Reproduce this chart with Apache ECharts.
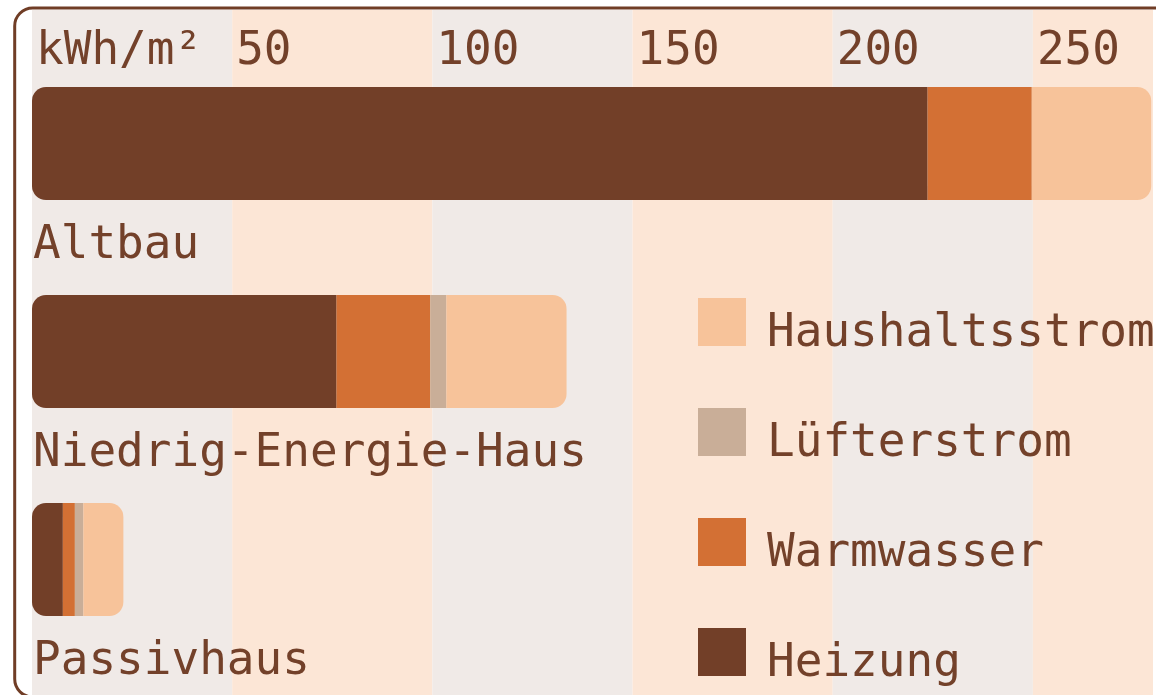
<!DOCTYPE html>
<html><head><meta charset="utf-8">
<script src="https://cdn.jsdelivr.net/npm/echarts@6/dist/echarts.min.js"></script>
<style>html,body{margin:0;padding:0;background:#fff}#c{width:1156px;height:695px}</style>
</head><body><div id="c"></div>
<script>
// Data
const categories = ['Altbau', 'Niedrig-Energie-Haus', 'Passivhaus'];
const heizung = [223.5, 76, 7.7];
const warmwasser = [26, 23.4, 3];
const luefterstrom = [0, 4, 2.1];
const haushaltsstrom = [29.8, 30, 10];
const tickValues = [0, 50, 100, 150, 200, 250];
const tickLabels = ['kWh/m²', '50', '100', '150', '200', '250'];
const seriesNames = ['Heizung', 'Warmwasser', 'Lüfterstrom', 'Haushaltsstrom'];
const legendOrder = ['Haushaltsstrom', 'Lüfterstrom', 'Warmwasser', 'Heizung'];

const TXT = '#73412a';
const FONT = 'DejaVu Sans Mono';
const colors = ['#723f28', '#d37034', '#c9ae98', '#f7c39a'];
const R = 14;

const chart = echarts.init(document.getElementById('c'), null, {renderer: 'canvas'});
const valuesBySeries = [heizung, warmwasser, luefterstrom, haushaltsstrom];
const radii = [[R, 0, 0, R], 0, 0, [0, R, R, 0]];

chart.setOption({
  animation: false,
  backgroundColor: '#ffffff',
  grid: [
    {left: 32, right: 2, top: 10, bottom: 0},
    {left: 32, right: 2, top: 39.5, bottom: 31.5}
  ],
  xAxis: [
    {
      gridIndex: 0, type: 'value', position: 'top', min: 0, max: 280, interval: 50,
      axisLine: {show: false}, axisTick: {show: false}, splitLine: {show: false},
      splitArea: {show: true, areaStyle: {color: ['#f0eae7', '#fce6d6']}},
      axisLabel: {
        inside: true, margin: 19, align: 'left', padding: [0, 0, 0, 4],
        color: TXT, fontFamily: FONT, fontSize: 46,
        formatter: function (v) { const i = tickValues.indexOf(v); return i >= 0 ? tickLabels[i] : ''; }
      }
    },
    {
      gridIndex: 1, type: 'value', min: 0, max: 280, interval: 50, show: false
    }
  ],
  yAxis: [
    {gridIndex: 0, type: 'value', show: false},
    {
      gridIndex: 1, type: 'category', data: categories, inverse: true,
      axisLine: {show: false}, axisTick: {show: false},
      axisLabel: {
        inside: true, margin: 1, align: 'left', verticalAlign: 'top', padding: [80, 0, 0, 0],
        color: TXT, fontFamily: FONT, fontSize: 46
      }
    }
  ],
  legend: {
    orient: 'vertical', left: 698, top: 298, padding: 0, itemWidth: 48, itemHeight: 48, itemGap: 51,
    icon: 'rect',
    data: legendOrder,
    formatter: function (name) { return '{t|' + name + '}'; },
    textStyle: {
      color: TXT, fontFamily: FONT, fontSize: 46, padding: [0, 0, 0, 16],
      rich: {t: {color: TXT, fontFamily: FONT, fontSize: 46, padding: [24, 0, 0, 0]}}
    }
  },
  series: seriesNames.map((name, i) => ({
    name: name, type: 'bar', stack: 'total', xAxisIndex: 1, yAxisIndex: 1,
    barWidth: 113, data: valuesBySeries[i],
    itemStyle: {color: colors[i], borderRadius: radii[i]}
  })),
  graphic: [{
    type: 'rect', z: 100, silent: true,
    shape: {x: 14.7, y: 8, width: 1300, height: 689, r: 18},
    style: {fill: 'none', stroke: '#703d26', lineWidth: 3}
  }]
});
</script></body></html>
